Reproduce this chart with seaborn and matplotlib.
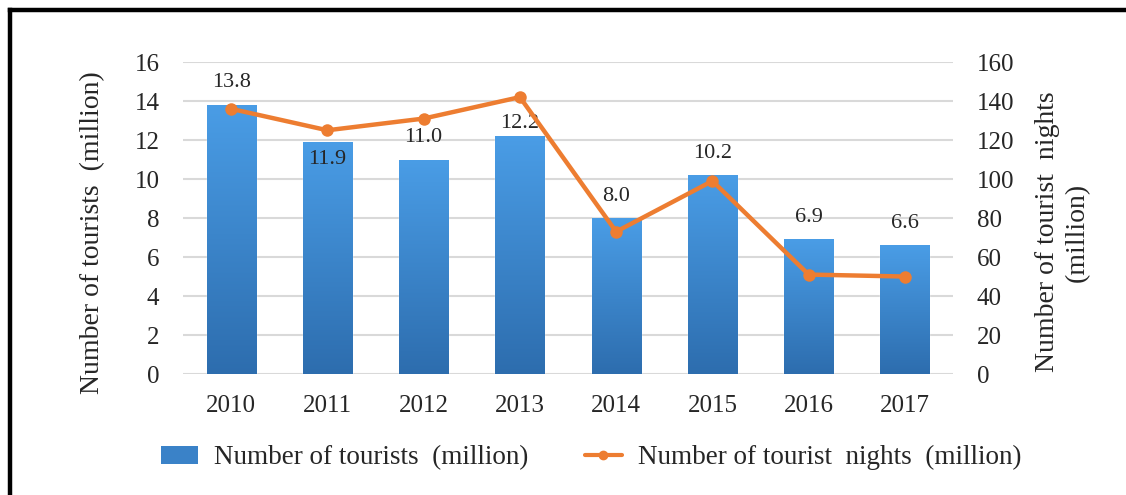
import numpy as np
import matplotlib
matplotlib.use("Agg")
import matplotlib.pyplot as plt
import matplotlib.colors as mcolors
from matplotlib.lines import Line2D
from matplotlib.patches import Patch
import seaborn as sns

# ── data ──────────────────────────────────────────────────────────────────────
years    = ["2010", "2011", "2012", "2013", "2014", "2015", "2016", "2017"]
tourists = [13.8, 11.9, 11.0, 12.2, 8.0, 10.2, 6.9, 6.6]          # million
nights   = [136, 125, 131, 142, 73, 99, 51, 50]                   # million
label_inside = ["2011"]   # label drawn inside the bar (line passes above)
label_tight  = ["2013"]   # label squeezed just above the bar, under the line

BAR_TOP = "#4A9DE6"
BAR_BOT = "#2D6DAE"
ORANGE  = "#ED7D31"
GRID    = "#D9D9D9"
FS_TICK = 18
FS_LAB  = 20
FS_LEG  = 19.5
FS_VAL  = 16

sns.set_style("white")
plt.rcParams["font.family"] = ["Liberation Serif", "DejaVu Serif"]

fig = plt.figure(figsize=(11.26, 4.95), dpi=100)
ax = fig.add_axes([0.1625, 0.2444, 0.6839, 0.6303])

# ── bars ──────────────────────────────────────────────────────────────────────
sns.barplot(x=years, y=tourists, color=BAR_BOT, width=0.51, ax=ax, zorder=2)
ax.set_ylim(0, 16)
ax.set_xlim(-0.5, len(years) - 0.5)

# vertical gradient on every bar
cmap = mcolors.LinearSegmentedColormap.from_list("bar", [BAR_BOT, BAR_TOP])
grad = np.linspace(0, 1, 256).reshape(-1, 1)
for bar in ax.patches:
    x0, y0 = bar.get_x(), bar.get_y()
    w, h = bar.get_width(), bar.get_height()
    im = ax.imshow(grad, cmap=cmap, aspect="auto", origin="lower",
                   extent=[x0, x0 + w, y0, y0 + h], zorder=2.1)
    im.set_clip_path(bar)

# value labels
for bar, yr, val in zip(ax.patches, years, tourists):
    cx = bar.get_x() + bar.get_width() / 2
    if yr in label_inside:
        off, va = -6, "top"
    elif yr in label_tight:
        off, va = 2, "bottom"
    else:
        off, va = 9, "bottom"
    ax.annotate(f"{val:.1f}", (cx, val), xytext=(0, off), textcoords="offset points",
                ha="center", va=va, fontsize=FS_VAL, zorder=5)

ax.set_yticks(np.arange(0, 17, 2))
ax.grid(axis="y", color=GRID, linewidth=1.5)
ax.set_axisbelow(True)
ax.tick_params(axis="both", length=0, labelsize=FS_TICK)
ax.tick_params(axis="y", pad=17)
ax.tick_params(axis="x", pad=15)
ax.set_xlabel("")
ax.set_ylabel("Number of tourists  (million)", fontsize=FS_LAB)
ax.yaxis.set_label_coords(-0.117, 0.452)
ax.yaxis.label.set_va("center")
for s in ax.spines.values():
    s.set_visible(False)

# ── line on secondary axis ───────────────────────────────────────────────────
ax2 = ax.twinx()
sns.lineplot(x=np.arange(len(years)), y=nights, color=ORANGE, linewidth=3.2,
             marker="o", markersize=9, markeredgewidth=0, ax=ax2, zorder=4)
ax2.set_ylim(0, 160)
ax2.set_xlim(-0.5, len(years) - 0.5)
ax2.set_yticks(np.arange(0, 161, 20))
ax2.tick_params(axis="y", length=0, labelsize=FS_TICK, pad=17)
ax2.set_ylabel("Number of tourist  nights\n(million)", fontsize=FS_LAB, linespacing=1.3)
ax2.yaxis.set_label_coords(1.142, 0.455)
ax2.yaxis.label.set_va("center")
for s in ax2.spines.values():
    s.set_visible(False)
ax2.grid(False)

# ── legend ───────────────────────────────────────────────────────────────────
handles = [
    Patch(facecolor="#3A82C8", edgecolor="none"),
    Line2D([0], [0], color=ORANGE, linewidth=3, marker="o", markersize=6),
]
fig.legend(handles, ["Number of tourists  (million)", "Number of tourist  nights  (million)"],
           loc="center", bbox_to_anchor=(0.525, 0.075), ncol=2, frameon=False,
           fontsize=FS_LEG, handlelength=1.35, handleheight=0.65, columnspacing=2.1,
           handletextpad=0.6)

# ── black frame (left + top only, as in the scan) ────────────────────────────
fx = 10 / 1126
fy = 1 - 10 / 495
fig.add_artist(Line2D([fx, fx], [0, fy], color="black", linewidth=3.2,
                      transform=fig.transFigure, solid_capstyle="projecting"))
fig.add_artist(Line2D([fx, 1], [fy, fy], color="black", linewidth=3.2,
                      transform=fig.transFigure, solid_capstyle="projecting"))

fig.savefig("out.png", dpi=100, facecolor="white")
plt.close(fig)
